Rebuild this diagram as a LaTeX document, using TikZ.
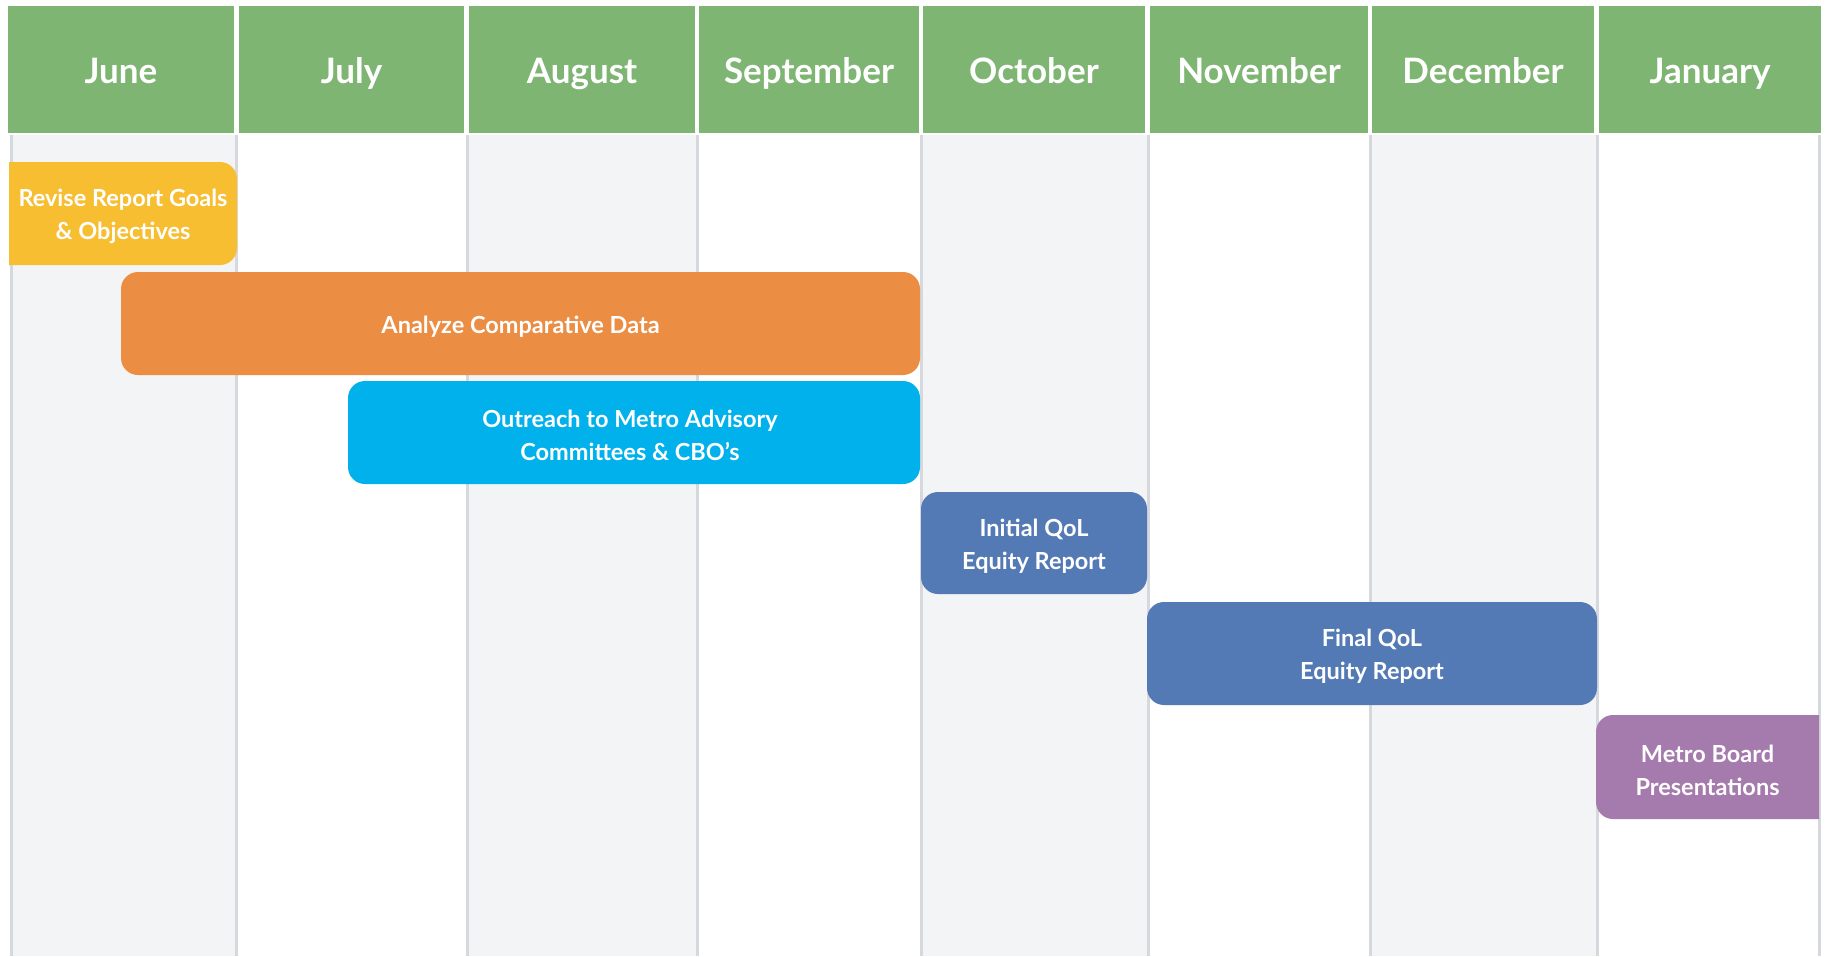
\documentclass[tikz,border=0pt]{standalone}
\usepackage{fontspec}
\setmainfont{Lato}
\definecolor{hdr}{HTML}{7EB572}
\definecolor{colshade}{HTML}{F3F4F6}
\definecolor{divl}{HTML}{D5D8DC}
\definecolor{cyel}{HTML}{F6BE30}
\definecolor{cora}{HTML}{EB8E44}
\definecolor{ccya}{HTML}{00B1EC}
\definecolor{cblu}{HTML}{547AB6}
\definecolor{cpur}{HTML}{A57AAD}
\tikzset{
  hdrbox/.style={fill=hdr},
  shadebox/.style={fill=colshade},
  hdrtext/.style={text=white, font=\fontsize{35}{40}\selectfont\bfseries, anchor=base},
  divline/.style={draw=divl, line width=3pt},
  bartext/.style={text=white, font=\fontsize{23.5}{33}\selectfont\bfseries, align=center, inner sep=0pt},
}
\begin{document}
\begin{tikzpicture}[x=1pt,y=-1pt]
\useasboundingbox (0,0) rectangle (1825,956);
\fill[white] (0,0) rectangle (1825,956);
% shaded columns
\fill[shadebox] (11,135) rectangle (236,956);
\fill[shadebox] (467,135) rectangle (697,956);
\fill[shadebox] (921,135) rectangle (1148,956);
\fill[shadebox] (1370,135) rectangle (1597,956);
% dividers
\foreach \x in {11,236,467,697,921,1148,1370,1597,1819}
  \draw[divline] (\x,135) -- (\x,956);
% headers
\foreach \a/\b/\t [count=\i] in {8/234/June,239/464/July,469/695/August,699/919/September,923/1145/October,1150/1368/November,1372/1594/December,1599/1821/January}{
  \fill[hdrbox] (\a,6) rectangle (\b,133);
  \node[hdrtext] (h\i) at ({(\a+\b)/2},83) {\t};
}
% bars
\fill[cyel] (9,162) [rounded corners=17pt] -- (237,162) -- (237,265) [sharp corners] -- (9,265) -- cycle;
\node[bartext] (revise) at (123,216) {Revise Report Goals\\\& Objectives};
\fill[cora, rounded corners=17pt] (121,272) rectangle (920,375);
\node[bartext] (analyze) at (520.5,327) {Analyze Comparative Data};
\fill[ccya, rounded corners=17pt] (348,381) rectangle (920,484);
\node[bartext] (outreach) at (630,435) {Outreach to Metro Advisory\\Committees \& CBO’s};
\fill[cblu, rounded corners=17pt] (921,492) rectangle (1147,594);
\node[bartext] (initial) at (1034,546) {Initial QoL\\Equity Report};
\fill[cblu, rounded corners=17pt] (1147,602) rectangle (1597,705);
\node[bartext] (final) at (1372,656) {Final QoL\\Equity Report};
\fill[cpur] (1819,715) [rounded corners=17pt] -- (1596,715) -- (1596,819) [sharp corners] -- (1819,819) -- cycle;
\node[bartext] (metro) at (1707.5,770) {Metro Board\\Presentations};
\end{tikzpicture}
\end{document}
